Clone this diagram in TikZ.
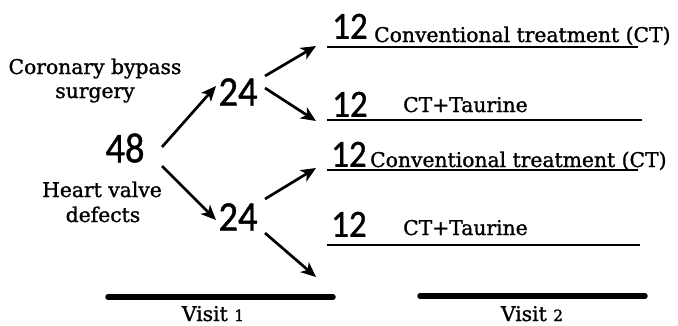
\documentclass[tikz,border=0pt]{standalone}
\usepackage{fontspec}
\usepackage{graphicx}
\setmainfont{DejaVu Serif}[FakeBold=1.2]
\newfontfamily\numfont{Carlito}[FakeBold=1.0]
\usetikzlibrary{arrows.meta}
\tikzset{
  lbl/.style={font=\fontsize{20.3}{23}\selectfont, inner sep=0pt, align=center},
  bignum/.style={font=\numfont\fontsize{38.5}{40}\selectfont, inner sep=0pt},
  rownum/.style={font=\numfont\fontsize{35}{38}\selectfont, inner sep=0pt, anchor=south west},
  rowtxt/.style={font=\fontsize{20.3}{23}\selectfont, inner sep=0pt, anchor=base west},
  arr/.style={line width=2.7pt, -{Stealth[length=15pt,width=13pt,inset=4pt]}},
  rowline/.style={line width=2.3pt},
  visitbar/.style={line width=5.5pt, line cap=round},
}
\begin{document}
\begin{tikzpicture}[x=1pt,y=-1pt]
\useasboundingbox (0,0) rectangle (678,325);
% left labels
\node[lbl, anchor=base] (cb1) at (95,74) {Coronary bypass};
\node[lbl, anchor=base] (cb2) at (95,98) {surgery};
\node[lbl, anchor=base] (hv1) at (102,197) {Heart valve};
\node[lbl, anchor=base] (hv2) at (103,222) {defects};
% numbers
\node[bignum] (n48) at (125,148) {\scalebox{1}[1.1]{48}};
\node[bignum] (n24a) at (238,92) {\scalebox{1}[1.1]{24}};
\node[bignum] (n24b) at (238,217) {\scalebox{1}[1.1]{24}};
% arrow end points
\coordinate (s1) at (162,147); \coordinate (t1) at (216,86);
\coordinate (s2) at (162,166); \coordinate (t2) at (216,220);
\coordinate (s3) at (265,76);  \coordinate (t3) at (316,46);
\coordinate (s4) at (265,88);  \coordinate (t4) at (316,121);
\coordinate (s5) at (265,199); \coordinate (t5) at (316,168);
\coordinate (s6) at (265,233); \coordinate (t6) at (316,277);
\draw[arr] (s1) -- (t1);
\draw[arr] (s2) -- (t2);
\draw[arr] (s3) -- (t3);
\draw[arr] (s4) -- (t4);
\draw[arr] (s5) -- (t5);
\draw[arr] (s6) -- (t6);
% rows
\node[rownum] (r1n) at (332,39) {\scalebox{1}[1.1]{12}};
\node[rowtxt] (r1t) at (374,42) {Conventional treatment (CT)};
\node[rownum] (r2n) at (332,117) {\scalebox{1}[1.1]{12}};
\node[rowtxt] (r2t) at (403,112) {CT+Taurine};
\node[rownum] (r3n) at (331,167) {\scalebox{1}[1.1]{12}};
\node[rowtxt] (r3t) at (370,167) {Conventional treatment (CT)};
\node[rownum] (r4n) at (331,237) {\scalebox{1}[1.1]{12}};
\node[rowtxt] (r4t) at (403,235) {CT+Taurine};
\coordinate (l1a) at (327,47);  \coordinate (l1b) at (638,47);
\coordinate (l2a) at (327,120); \coordinate (l2b) at (642,120);
\coordinate (l3a) at (327,170); \coordinate (l3b) at (638,170);
\coordinate (l4a) at (327,245); \coordinate (l4b) at (640,245);
\draw[rowline] (l1a) -- (l1b);
\draw[rowline] (l2a) -- (l2b);
\draw[rowline] (l3a) -- (l3b);
\draw[rowline] (l4a) -- (l4b);
% visits
\coordinate (v1a) at (108,297); \coordinate (v1b) at (333,297);
\coordinate (v2a) at (420,296); \coordinate (v2b) at (645,296);
\draw[visitbar] (v1a) -- (v1b);
\draw[visitbar] (v2a) -- (v2b);
\node[lbl, anchor=base] (vis1) at (213,321) {Visit {\fontsize{15.5}{15}\selectfont 1}};
\node[lbl, anchor=base] (vis2) at (532,321) {Visit {\fontsize{15.5}{15}\selectfont 2}};
\end{tikzpicture}
\end{document}
